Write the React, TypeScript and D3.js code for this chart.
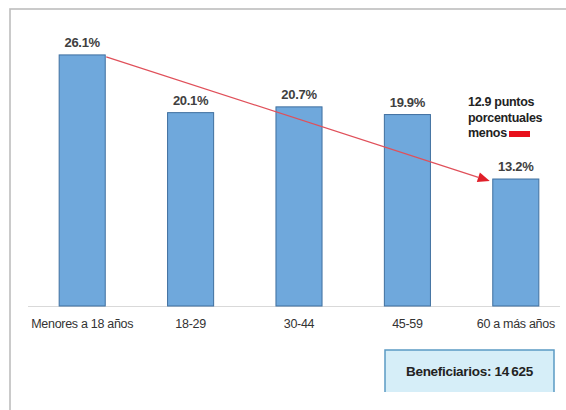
import React from "react";
import * as d3 from "d3";

const categories = ["Menores a 18 años", "18-29", "30-44", "45-59", "60 a más años"];
const values = [26.1, 20.1, 20.7, 19.9, 13.2];
const valueLabels = ["26.1%", "20.1%", "20.7%", "19.9%", "13.2%"];
const annotationLines = ["12.9 puntos", "porcentuales", "menos"];
const boxText = "Beneficiarios: 14\u2009625";

const W = 566;
const H = 410;
const FONT = "'Liberation Sans', Arial, sans-serif";

export default function App() {
  const x = d3.scaleBand<string>().domain(categories).range([28, 570]).paddingInner(0.575).paddingOuter(0.2875);
  const y = d3.scaleLinear().domain([0, 30]).range([306, 306 - 288.6]);
  const bw = x.bandwidth();

  const first = categories[0];
  const last = categories[categories.length - 1];
  const ax1 = (x(first) as number) + bw + 1;
  const ay1 = y(values[0]) + 2;
  const ax2 = (x(last) as number) - 3;
  const ay2 = y(values[values.length - 1]) + 2;
  const ang = Math.atan2(ay2 - ay1, ax2 - ax1);
  const hl = 12, hw = 5;
  const bx = ax2 - hl * Math.cos(ang);
  const by = ay2 - hl * Math.sin(ang);
  const head = [
    [ax2, ay2],
    [bx + hw * Math.sin(ang), by - hw * Math.cos(ang)],
    [bx - hw * Math.sin(ang), by + hw * Math.cos(ang)],
  ];

  return (
    <svg width={W} height={H} style={{ position: "absolute", left: 0, top: 0, background: "#fff" }} fontFamily={FONT}>
      <rect x={10} y={9} width={620} height={460} fill="#fff" stroke="#bdbdbd" strokeWidth={1.6} />
      <line x1={28} x2={560} y1={y(0) + 0.5} y2={y(0) + 0.5} stroke="#d9d9d9" strokeWidth={1} />
      {categories.map((c, i) => (
        <g key={c}>
          <rect x={x(c)} y={y(values[i])} width={bw} height={y(0) - y(values[i])} fill="#6fa8dc" stroke="#3f6f9f" strokeWidth={1} />
          <text x={(x(c) as number) + bw / 2} y={y(values[i]) - 8} textAnchor="middle" fontSize={13} fontWeight="bold" fill="#404040" letterSpacing={-0.3}>
            {valueLabels[i]}
          </text>
          <text x={(x(c) as number) + bw / 2} y={328} textAnchor="middle" fontSize={12.5} fill="#333" letterSpacing={-0.3}>
            {c}
          </text>
        </g>
      ))}
      <line x1={ax1} y1={ay1} x2={bx} y2={by} stroke="#e0505a" strokeWidth={1.2} />
      <polygon points={head.map((p) => p.join(",")).join(" ")} fill="#e0202a" />
      {annotationLines.map((t, i) => (
        <text key={t} x={468} y={106 + i * 15.5} fontSize={12.5} fontWeight="bold" fill="#222" letterSpacing={-0.3}>
          {t}
        </text>
      ))}
      <rect x={509} y={131} width={21} height={6} fill="#e8101c" />
      <path d="M385,392 L385,350 L554,350 L554,392" fill="#d6eef8" stroke="#5b9ac4" strokeWidth={1.5} />
      <text x={469.5} y={376} textAnchor="middle" fontSize={13.5} fontWeight="bold" fill="#222" letterSpacing={-0.3}>
        {boxText}
      </text>
    </svg>
  );
}
